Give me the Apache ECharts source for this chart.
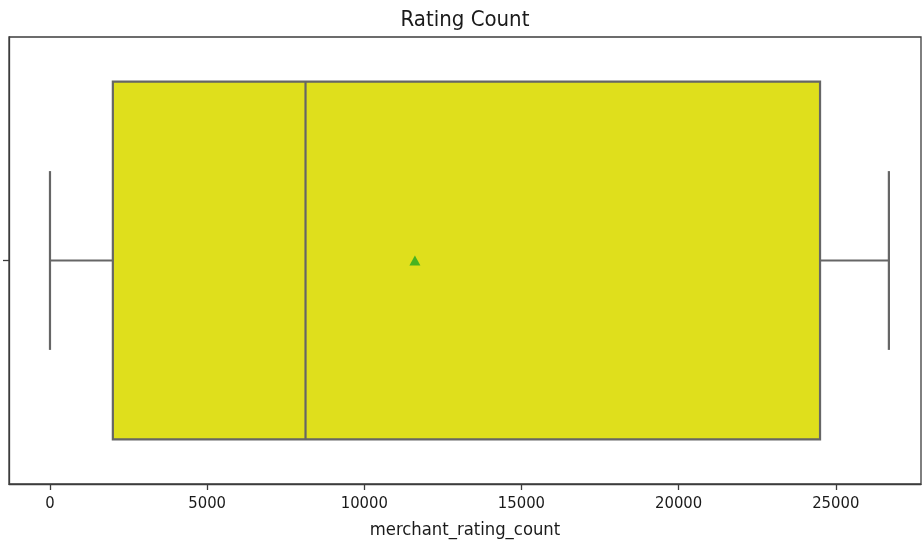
<!DOCTYPE html>
<html>
<head>
<meta charset="utf-8">
<script src="https://cdn.jsdelivr.net/npm/echarts@6/dist/echarts.min.js"></script>
<style>
  html, body { margin: 0; padding: 0; background: #ffffff; }
  #chart { width: 922px; height: 544px; }
</style>
</head>
<body>
<div id="chart"></div>
<script>
// Five-number summary of merchant_rating_count plus its mean
const categories = [''];
const lowWhisker = [0];
const q1 = [2000];
const median = [8130];
const q3 = [24500];
const highWhisker = [26690];
const means = [11610];
const xTicks = [0, 5000, 10000, 15000, 20000, 25000];

const FONT = '"DejaVu Sans Condensed", "DejaVu Sans", sans-serif';
const LINE = '#666666';
const FRAME = '#3c3c3c';

const boxData = categories.map((c, i) => [i, lowWhisker[i], q1[i], median[i], q3[i], highWhisker[i]]);
const meanData = categories.map((c, i) => [means[i], i]);

function renderBox(params, api) {
  const idx = api.value(0);
  const band = api.size([0, 1])[1];
  const boxH = band * 0.8;
  const capH = band * 0.4;
  const pLow = api.coord([api.value(1), idx]);
  const cy = pLow[1];
  const xLow = pLow[0];
  const xQ1 = api.coord([api.value(2), idx])[0];
  const xMed = api.coord([api.value(3), idx])[0];
  const xQ3 = api.coord([api.value(4), idx])[0];
  const xHigh = api.coord([api.value(5), idx])[0];
  const ls = { stroke: LINE, lineWidth: 2.2, fill: null };
  return {
    type: 'group',
    children: [
      { type: 'line', shape: { x1: xLow, y1: cy, x2: xQ1, y2: cy }, style: ls },
      { type: 'line', shape: { x1: xQ3, y1: cy, x2: xHigh, y2: cy }, style: ls },
      { type: 'line', shape: { x1: xLow, y1: cy - capH / 2, x2: xLow, y2: cy + capH / 2 }, style: ls },
      { type: 'line', shape: { x1: xHigh, y1: cy - capH / 2, x2: xHigh, y2: cy + capH / 2 }, style: ls },
      { type: 'rect', shape: { x: xQ1, y: cy - boxH / 2, width: xQ3 - xQ1, height: boxH },
        style: { fill: '#dfdf1c', stroke: LINE, lineWidth: 2.2 } },
      { type: 'line', shape: { x1: xMed, y1: cy - boxH / 2, x2: xMed, y2: cy + boxH / 2 }, style: ls }
    ]
  };
}

const chart = echarts.init(document.getElementById('chart'), null, { renderer: 'canvas' });
chart.setOption({
  animation: false,
  backgroundColor: '#ffffff',
  graphic: [{
    type: 'text',
    x: 465,
    y: 20,
    style: {
      text: 'Rating Count',
      font: '22px ' + FONT,
      fill: '#1a1a1a',
      textAlign: 'center',
      textVerticalAlign: 'middle'
    }
  }],
  grid: {
    left: 9, right: 1, top: 37, bottom: 55,
    show: true, borderColor: FRAME, borderWidth: 1.3, backgroundColor: 'transparent'
  },
  xAxis: {
    type: 'value',
    min: -1304,
    max: 27712,
    splitLine: { show: false },
    axisLine: { show: true, onZero: false, lineStyle: { color: FRAME, width: 1.3 } },
    axisTick: { show: true, length: 6, lineStyle: { color: FRAME, width: 1.3 }, customValues: xTicks },
    axisLabel: {
      show: true, customValues: xTicks, margin: 11, color: '#1a1a1a',
      fontSize: 16.5, fontFamily: FONT, formatter: v => String(v)
    },
    name: 'merchant_rating_count',
    nameLocation: 'middle',
    nameGap: 37,
    nameTextStyle: { color: '#1a1a1a', fontSize: 18.3, fontFamily: FONT }
  },
  yAxis: {
    type: 'category',
    data: categories,
    axisLine: { show: true, onZero: false, lineStyle: { color: FRAME, width: 1.3 } },
    axisTick: { show: true, alignWithLabel: true, length: 6, lineStyle: { color: FRAME, width: 1.3 } },
    axisLabel: { show: false },
    splitLine: { show: false }
  },
  series: [
    {
      type: 'custom',
      renderItem: renderBox,
      encode: { x: [1, 2, 3, 4, 5], y: 0 },
      data: boxData,
      z: 2
    },
    {
      type: 'scatter',
      data: meanData,
      symbol: 'triangle',
      symbolSize: [11, 10],
      itemStyle: { color: '#22a822' },
      z: 5
    }
  ]
});
</script>
</body>
</html>
